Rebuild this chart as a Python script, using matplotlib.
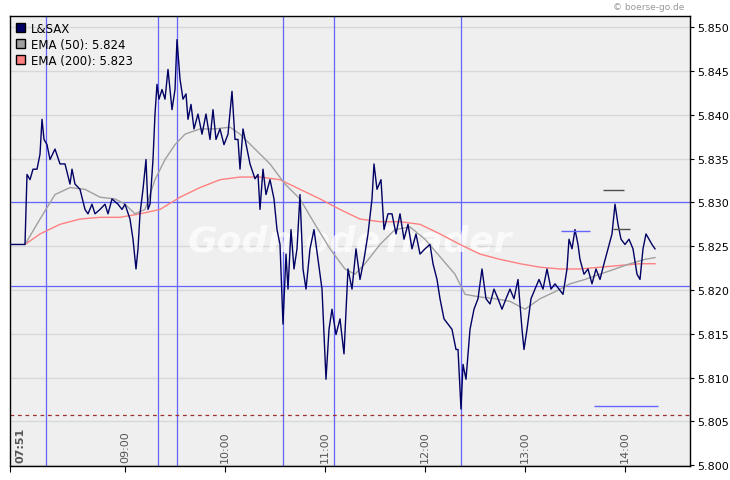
import matplotlib
matplotlib.use("Agg")
import matplotlib.pyplot as plt
from matplotlib.patches import Patch

t = [0,9,10.2,12,13.8,16.2,18,19.2,20.4,22.2,24,27,30,33,36,37.2,39,42,45,46.8,49.2,51,54,57,58.8,61.2,64.8,67.2,69,72,73.8,75.6,76.8,78,79.8,81.6,82.8,84,85.8,87,88.2,89.4,91.2,93,94.8,97.2,99,100.2,102,103.8,105.6,106.8,108.6,110.4,112.8,115.2,117.6,120,121.8,123.6,126,128.4,130.8,133.2,135,136.8,138,139.8,142.2,144,147,148.8,150,151.8,153.6,156,158.4,160.2,162,163.8,165.6,166.8,168.6,170.4,172.2,174,175.8,177.6,180,182.4,184.8,187.2,189.6,191.4,193.2,195.6,198,200.4,202.8,205.2,207.6,210,212.4,214.8,217.2,218.4,220.2,222.6,224.4,226.8,229.2,231.6,234,236.4,238.8,241.2,243.6,246,249,252,253.8,256.2,258,260.4,262.8,265.2,267.6,268.8,270.6,271.8,273.6,276,278.4,280.8,283.2,285.6,288,290.4,292.8,295.2,297.6,300,302.4,304.8,307.2,308.4,310.2,312.6,315,317.4,319.8,322.2,324.6,327,329.4,331.8,334.2,335.4,337.2,339,340.8,342,344.4,346.8,349.2,351.6,354,356.4,358.8,361.2,363,364.8,366.6,369,371.4,373.8,376.2,378,379.8,381.6,383.4,385.2,387]
price = [5.8252,5.8252,5.8332,5.8326,5.8338,5.8338,5.8355,5.8395,5.8372,5.8366,5.8349,5.8361,5.8344,5.8344,5.8321,5.8338,5.8321,5.8315,5.8292,5.8287,5.8298,5.8287,5.8292,5.8298,5.8287,5.8304,5.8298,5.8292,5.8298,5.8281,5.8258,5.8224,5.8247,5.8287,5.8315,5.8349,5.8292,5.8298,5.8349,5.8401,5.8435,5.8418,5.8429,5.8418,5.8452,5.8406,5.8429,5.8486,5.8441,5.8418,5.8424,5.8395,5.8412,5.8384,5.8401,5.8378,5.8401,5.8372,5.8406,5.8372,5.8384,5.8366,5.8378,5.8427,5.8372,5.8372,5.8338,5.8384,5.8361,5.8344,5.8327,5.8332,5.8292,5.8338,5.8309,5.8326,5.8304,5.8269,5.8252,5.8161,5.8241,5.8201,5.8269,5.8224,5.8247,5.8309,5.8224,5.8201,5.8247,5.8269,5.8235,5.8201,5.8098,5.8155,5.8178,5.8149,5.8167,5.8127,5.8224,5.8201,5.8247,5.8212,5.8235,5.8264,5.8304,5.8344,5.8315,5.8326,5.8269,5.8287,5.8287,5.8264,5.8287,5.8258,5.8275,5.8247,5.8264,5.8241,5.8247,5.8252,5.8230,5.8212,5.8190,5.8167,5.8161,5.8155,5.8132,5.8132,5.8064,5.8115,5.8098,5.8155,5.8178,5.8190,5.8224,5.8190,5.8184,5.8201,5.8190,5.8178,5.8190,5.8201,5.8190,5.8212,5.8155,5.8132,5.8155,5.8190,5.8201,5.8212,5.8201,5.8224,5.8201,5.8207,5.8201,5.8195,5.8224,5.8258,5.8247,5.8269,5.8252,5.8235,5.8218,5.8224,5.8207,5.8224,5.8212,5.8230,5.8247,5.8264,5.8298,5.8275,5.8258,5.8252,5.8258,5.8247,5.8218,5.8212,5.8247,5.8264,5.8258,5.8252,5.8247]

ema50_t = [9,18,27,36,45,54,63,69,75,81,87,93,99,105,114,123,132,138,147,156,165,174,183,192,201,207,213,222,231,240,249,258,267,273,282,291,300,309,318,327,336,345,354,363,372,381,387]
ema50 = [5.8252,5.8281,5.8309,5.8317,5.8315,5.8306,5.8304,5.8298,5.8287,5.8292,5.8326,5.8349,5.8366,5.8378,5.8384,5.8384,5.8386,5.8378,5.8361,5.8344,5.8321,5.8304,5.8275,5.8247,5.8224,5.8218,5.8230,5.8252,5.8269,5.8272,5.8258,5.8238,5.8218,5.8195,5.8192,5.8190,5.8187,5.8178,5.8190,5.8198,5.8207,5.8212,5.8218,5.8224,5.8230,5.8235,5.8237]
ema200_t = [9,18,30,42,54,66,78,90,102,114,126,138,150,162,174,186,198,210,222,234,246,258,270,282,294,306,318,330,342,354,366,378,387]
ema200 = [5.8252,5.8264,5.8275,5.8281,5.8283,5.8283,5.8287,5.8292,5.8306,5.8317,5.8326,5.8329,5.8329,5.8326,5.8315,5.8304,5.8292,5.8281,5.8278,5.8278,5.8275,5.8264,5.8252,5.8241,5.8235,5.8230,5.8226,5.8224,5.8224,5.8226,5.8228,5.8230,5.8230]

vlines = [21.6, 88.8, 100.2, 163.8, 194.4, 270.6]
hlines = [5.830, 5.8205]
dashed_level = 5.8057
tick_pos = [0, 69, 129, 189, 249, 309, 369]
tick_labels = ["07:51", "09:00", "10:00", "11:00", "12:00", "13:00", "14:00"]
yticks = [5.800, 5.805, 5.810, 5.815, 5.820, 5.825, 5.830, 5.835, 5.840, 5.845, 5.850]

fig = plt.figure(figsize=(7.3, 4.81), dpi=100)
ax = fig.add_axes([10/730, 14/481, 680/730, 450/481])
ax.set_facecolor("#efefef")
ax.set_xlim(0, 408)
ax.set_ylim(5.79989, 5.8513)
for y in yticks:
    ax.axhline(y, color="#d8d8d8", lw=1, zorder=0)
for v in vlines:
    ax.axvline(v, color="#6464ff", lw=0.9, zorder=1)
for h in hlines:
    ax.axhline(h, color="#6464ff", lw=0.9, zorder=1)
ax.axhline(dashed_level, color="#a03030", lw=0.9, ls=(0, (3, 3)), zorder=1)
ax.text(0.5, 0.5, "GodmodeTrader", transform=ax.transAxes, fontsize=26, fontweight="bold",
        color="white", alpha=0.7, ha="center", va="center", style="italic", zorder=1)
ax.plot(ema200_t, ema200, color="#ff8080", lw=1, zorder=2)
ax.plot(ema50_t, ema50, color="#a0a0a0", lw=1, zorder=2)
ax.plot(t, price, color="#000064", lw=1, zorder=3)
ax.hlines([5.8314], 355.8, 368.4, color="#505050", lw=1, zorder=3)
ax.hlines([5.8267], 330.6, 348, color="#6464ff", lw=1, zorder=3)
ax.hlines([5.8270], 361.8, 372, color="#505050", lw=1, zorder=3)
ax.hlines([5.8068], 350.4, 388.8, color="#6464ff", lw=1, zorder=3)

ax.yaxis.tick_right()
ax.set_yticks(yticks)
ax.set_yticklabels([f"{y:.3f}" for y in yticks], fontsize=8)
ax.tick_params(axis="y", length=3, pad=2)
ax.set_xticks(tick_pos)
ax.set_xticklabels([])
ax.tick_params(axis="x", length=4, direction="out")
for p, l in zip(tick_pos, tick_labels):
    ax.text(p + (6 if p == 0 else 0), 5.8003, l, rotation=90, fontsize=8, color="#555555",
            ha="center", va="bottom", fontweight="bold" if p == 0 else "normal")
for s in ax.spines.values():
    s.set_linewidth(1)
handles = [Patch(facecolor="#000064", edgecolor="black", label="L&SAX"),
           Patch(facecolor="#a0a0a0", edgecolor="black", label="EMA (50): 5.824"),
           Patch(facecolor="#ff8080", edgecolor="black", label="EMA (200): 5.823")]
ax.legend(handles=handles, loc="upper left", frameon=False, fontsize=8.5, handlelength=0.8,
          handleheight=0.8, handletextpad=0.5, borderaxespad=0.1, labelspacing=0.25)
fig.text(684/730, 1 - 8/481, "© boerse-go.de", fontsize=6.5, color="#999999", ha="right", va="center")
fig.savefig("out.png")
